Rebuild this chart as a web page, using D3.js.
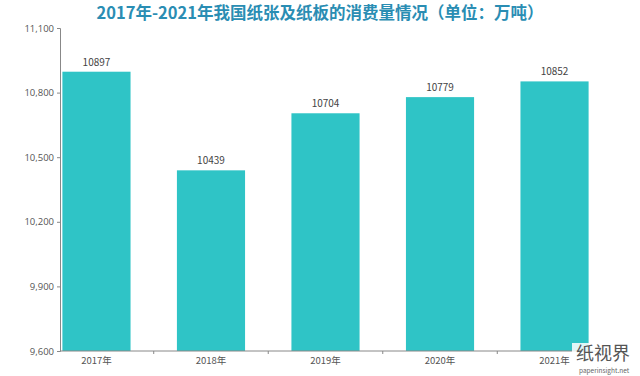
<!DOCTYPE html>
<html><head><meta charset="utf-8">
<script src="https://cdn.jsdelivr.net/npm/d3@7"></script>
<style>body{margin:0;background:#fff;}svg{display:block;font-family:"Noto Sans CJK SC","Open Sans",sans-serif;}</style>
</head><body>
<svg id="c" width="640" height="376"></svg>
<script>
const title = "2017年-2021年我国纸张及纸板的消费量情况（单位：万吨）";
const categories = ["2017年","2018年","2019年","2020年","2021年"];
const values = [10897, 10439, 10704, 10779, 10852];
const yTicks = [9600, 9900, 10200, 10500, 10800, 11100];

const svg = d3.select("#c");
const x = d3.scaleBand().domain(categories).range([39.5, 611.5]).paddingInner(0.405).paddingOuter(0.2);
const y = d3.scaleLinear().domain([9600, 11100]).range([351, 28]);
const axisLeftX = 60;

svg.append("text").attr("x", 320).attr("y", 19).attr("text-anchor", "middle")
  .attr("font-size", 16.5).attr("font-weight", "bold").attr("fill", "#2a8db3").text(title);

// bars
svg.selectAll("rect.bar").data(values).enter().append("rect")
  .attr("x", (d,i)=>x(categories[i])).attr("width", x.bandwidth())
  .attr("y", d=>y(d)).attr("height", d=>y(9600)-y(d)).attr("fill", "#2fc4c6");

svg.selectAll("text.val").data(values).enter().append("text")
  .attr("x", (d,i)=>x(categories[i])+x.bandwidth()/2).attr("y", d=>y(d)-6)
  .attr("text-anchor","middle").attr("font-size",10).attr("fill","#444").text(d=>d);

// y axis
const ya = svg.append("g").attr("transform", `translate(${axisLeftX},0)`)
  .call(d3.axisLeft(y).tickValues(yTicks).tickSize(3).tickFormat(d3.format(",")));
ya.select(".domain").attr("stroke","#888");
ya.selectAll(".tick line").attr("stroke","#888");
ya.selectAll("text").attr("font-size",9.5).attr("fill","#555").attr("font-family","'Open Sans',sans-serif");

// x axis
const xa = svg.append("g").attr("transform", `translate(0,${y(9600)})`);
xa.append("line").attr("x1", axisLeftX).attr("x2", 611).attr("stroke","#888");
const step = x.step();
categories.slice(0,-1).forEach((c,i)=>{
  const bx = x(c)+x.bandwidth()/2+step/2;
  xa.append("line").attr("x1",bx).attr("x2",bx).attr("y1",0).attr("y2",3).attr("stroke","#888");
});
xa.selectAll("text").data(categories).enter().append("text")
  .attr("x", d=>x(d)+x.bandwidth()/2).attr("y", 13).attr("text-anchor","middle")
  .attr("font-size",9.5).attr("fill","#555").text(d=>d);

// logo watermark
const lg = svg.append("g");
lg.append("rect").attr("x",572).attr("y",343).attr("width",68).attr("height",33).attr("fill","#fff").attr("opacity",0.85);
lg.append("text").attr("x",576).attr("y",360).attr("font-size",18).attr("fill","#555").text("纸视界");
lg.append("text").attr("x",579).attr("y",373).attr("font-size",6.5).attr("fill","#666").text("paperinsight.net");
</script>
</body></html>
